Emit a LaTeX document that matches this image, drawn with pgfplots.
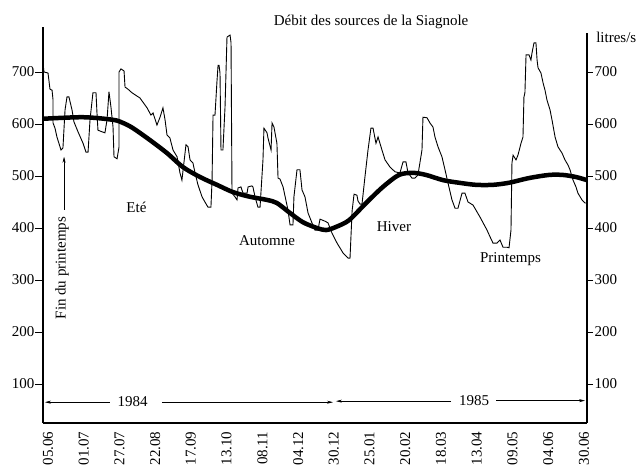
\documentclass[border=0pt]{standalone}
\usepackage{fontspec}
\setmainfont{Liberation Serif}
\usepackage{pgfplots}
\pgfplotsset{compat=1.18}
\usetikzlibrary{arrows.meta}
\begin{document}
\begin{tikzpicture}[font=\fontsize{15bp}{18bp}\selectfont]
\useasboundingbox (-43bp,-43bp) rectangle (593bp,423bp);
\begin{axis}[
  at={(0,0)}, anchor=south west,
  scale only axis, width=544bp, height=396bp,
  xmin=0, xmax=390, ymin=25, ymax=786.5,
  axis x line*=bottom, axis y line*=left,
  axis line style={line width=1.1bp, black},
  clip=false,
  /pgf/number format/assume math mode=true,
  xtick={3.6,29.2,54.8,80.4,106.0,131.6,157.3,182.9,208.5,234.1,259.7,285.3,310.9,336.5,362.2,387.8},
  xticklabels={05.06,01.07,27.07,22.08,17.09,13.10,08.11,04.12,30.12,25.01,20.02,18.03,13.04,09.05,04.06,30.06},
  x tick style={draw=none},
  xticklabel style={rotate=90, anchor=east, inner xsep=0.5bp, inner ysep=0pt, font=\fontsize{15bp}{18bp}\selectfont},
  ytick={100,200,300,400,500,600,700},
  y tick style={line width=0.9bp, black},
  tick align=outside, major tick length=8bp,
  yticklabel style={inner xsep=0.5bp, font=\fontsize{15bp}{18bp}\selectfont},
]
% raw flow (thin line)
\addplot[black, line width=0.9bp] coordinates {
(0,717)(0.7,700)(3.6,698)(5.0,667)(6.5,665)(7.2,646)(7.2,602)(8.6,592)(10.0,575)(12.9,550)(14.3,554)(15.8,627)(17.2,652)(18.6,652)(20.8,627)(22.2,604)(25.1,585)(28.7,563)(30.8,546)(32.3,546)(33.7,608)(35.8,660)(38.0,660)(38.7,621)(39.4,588)(42.3,585)(44.4,583)(45.9,608)(47.3,662)(48.7,633)(50.2,594)(50.9,537)(53.1,533)(54.5,556)(54.5,700)(55.9,706)(58.1,702)(58.8,671)(60.9,667)(63.8,660)(69.5,650)(74.6,631)(77.4,617)(78.9,621)(81.7,598)(83.9,613)(86.0,631)(87.5,608)(88.9,579)(91.0,573)(93.2,550)(96.1,537)(98.2,506)(99.6,492)(102.5,560)(104.0,556)(105.4,531)(107.5,525)(109.0,506)(111.1,483)(114.0,460)(116.1,450)(118.3,440)(120.4,440)(121.2,492)(121.9,617)(123.3,617)(124.7,681)(125.5,713)(126.2,713)(126.9,698)(127.6,550)(129.0,550)(130.5,633)(131.9,767)(134.1,771)(134.8,756)(135.5,467)(137.6,460)(139.1,454)(139.8,477)(141.9,479)(143.4,467)(146.3,467)(147.0,479)(149.8,481)(150.5,479)(152.0,460)(154.1,440)(155.6,440)(157.7,531)(158.4,592)(160.6,583)(161.3,573)(163.5,550)(164.2,602)(165.6,594)(167.7,563)(168.5,496)(169.9,494)(172.1,479)(175.6,435)(177.1,406)(179.2,406)(179.9,460)(182.1,512)(184.2,512)(185.7,473)(187.8,460)(190.0,429)(192.8,410)(195.0,396)(197.1,396)(198.6,417)(202.2,413)(204.3,410)(207.2,390)(210.8,371)(215.1,352)(218.7,342)(220.1,342)(221.6,433)(223.0,465)(225.1,463)(225.8,452)(227.3,446)(228.7,446)(230.8,498)(233.0,550)(235.1,592)(236.6,592)(238.7,563)(240.2,575)(243.0,550)(245.2,531)(248.8,517)(252.4,508)(255.9,506)(258.1,527)(260.2,527)(261.7,506)(264.5,496)(266.7,496)(268.8,502)(271.7,550)(272.4,613)(275.3,612)(277.4,602)(279.6,594)(281.0,575)(283.2,556)(286.0,537)(288.2,512)(290.3,487)(293.2,454)(295.4,438)(297.5,438)(300.4,467)(302.5,467)(304.7,450)(308.3,444)(313.3,421)(315.5,410)(318.3,396)(320.5,383)(322.6,371)(325.5,371)(327.6,377)(329.8,363)(332.6,363)(334.1,362)(335.5,396)(336.2,525)(337.0,540)(339.1,531)(340.5,540)(342.7,563)(344.1,575)(344.8,652)(345.5,660)(346.3,733)(348.4,733)(349.8,723)(350.6,737)(352.0,756)(353.4,756)(354.2,723)(354.9,708)(357.0,698)(358.5,679)(359.9,665)(361.3,646)(363.5,627)(364.9,608)(367.1,575)(369.2,556)(372.1,544)(374.2,531)(376.4,521)(377.8,512)(380.0,492)(382.1,479)(383.5,467)(386.4,454)(388.5,448)(390.0,448)
};
% smoothed trend (thick line)
\addplot[black, line width=4.5bp, smooth] coordinates {
(0,610)(28.7,613)(50.2,608)(57.4,602)(64.5,592)(76.7,569)(88.9,544)(100.4,517)(112.6,498)(124.7,483)(136.2,469)(148.4,460)(160.6,454)(167.7,448)(177,429)(186.4,411)(196.4,400)(202.9,396)(210,402)(219.4,415)(231.6,448)(243.7,479)(255.2,502)(265.3,506)(274.6,502)(286.8,492)(298.2,487)(310.4,483)(322.6,483)(334.1,487)(348.4,496)(362.7,502)(372.8,502)(382.1,498)(390,492)
};
% texts
\node[anchor=base] at (axis cs:235.2,790) {Débit des sources de la Siagnole};
\node[anchor=base west, inner sep=0pt] at (axis cs:396.5,757) {litres/s};
\node[rotate=90] at (axis cs:13.6,323) {Fin du printemps};
\draw[line width=0.6bp, -{Stealth[length=6bp,width=3bp]}] (axis cs:15.1,435) -- (axis cs:15.1,537);
\node[anchor=base] at (axis cs:67,429) {Eté};
\node[anchor=base] at (axis cs:160.6,367) {Automne};
\node[anchor=base] at (axis cs:251.6,393) {Hiver};
\node[anchor=base] at (axis cs:335.2,333) {Printemps};
\node[anchor=base] at (axis cs:64.2,56) {1984};
\node[anchor=base] at (axis cs:309,58) {1985};
\draw[line width=0.6bp, -{Stealth[length=6bp,width=3bp]}] (axis cs:48,65) -- (axis cs:1.4,65);
\draw[line width=0.6bp, -{Stealth[length=6bp,width=3bp]}] (axis cs:85.3,65) -- (axis cs:207.9,65);
\draw[line width=0.6bp, -{Stealth[length=6bp,width=3bp]}] (axis cs:292.5,67) -- (axis cs:210,67);
\draw[line width=0.6bp, -{Stealth[length=6bp,width=3bp]}] (axis cs:324.8,68) -- (axis cs:388.6,68);
\end{axis}
\begin{axis}[
  at={(0,0)}, anchor=south west,
  scale only axis, width=544bp, height=390bp,
  xmin=0, xmax=390, ymin=25, ymax=775,
  axis x line=none, axis y line*=right,
  axis line style={line width=1.1bp, black},
  /pgf/number format/assume math mode=true,
  ytick={100,200,300,400,500,600,700},
  y tick style={line width=0.9bp, black},
  tick align=outside, major tick length=6bp,
  yticklabel style={inner xsep=1.5bp, font=\fontsize{15bp}{18bp}\selectfont},
]
\addplot[draw=none] coordinates {(0,100)(390,700)};
\end{axis}
\end{tikzpicture}
\end{document}
